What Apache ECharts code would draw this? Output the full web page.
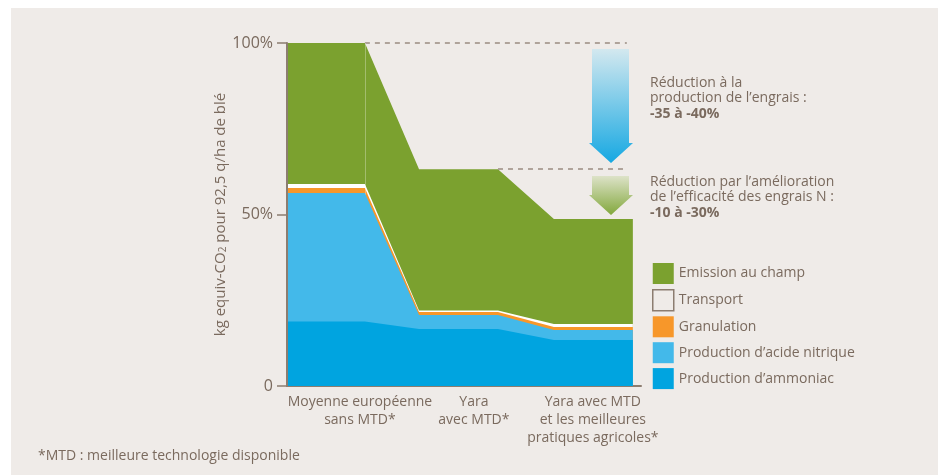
<!DOCTYPE html>
<html>
<head>
<meta charset="utf-8">
<script src="https://cdn.jsdelivr.net/npm/echarts@6/dist/echarts.min.js"></script>
<style>
  html, body { margin: 0; padding: 0; background: #ffffff; }
  #chart { width: 942px; height: 475px; }
</style>
</head>
<body>
<div id="chart"></div>
<script>
// scénarios (3 paliers), valeurs en % du total de référence
var scenarios = ['Moyenne européenne\nsans MTD*', 'Yara\navec MTD*', 'Yara avec MTD\net les meilleures\npratiques agricoles*'];
var labelPos = [20.6, 52.8, 86.4];       // position des libellés sur l'axe x (0-100)
var plateauStart = [0, 37.3, 75.4];
var plateauEnd = [22, 59.6, 97.7];

var ammoniac = [18.8, 16.6, 13.4];
var acideNitrique = [37.5, 4.1, 2.9];
var granulation = [1.4, 0.9, 0.9];
var transport = [1.2, 0.4, 0.9];
var emissionChamp = [41.1, 41.2, 30.6];

var yTicks = [0, 50, 100];
var yTickLabels = ['0', '50%', '100%'];

var txt = '#7a6a5e';
var font = 'Open Sans';

// empilement fait à la main (axe x en valeurs)
var layers = [
    { name: 'Production d\u2019ammoniac', vals: ammoniac, color: '#00a4e0' },
    { name: 'Production d\u2019acide nitrique', vals: acideNitrique, color: '#43b9ea' },
    { name: 'Granulation', vals: granulation, color: '#f7972a' },
    { name: 'Transport', vals: transport, color: '#ffffff' },
    { name: 'Emission au champ', vals: emissionChamp, color: '#7ba12f' }
];
var cum = [0, 0, 0];
layers.forEach(function(l) {
    cum = cum.map(function(c, i) { return c + l.vals[i]; });
    l.top = cum.slice();
});
var totals = cum;

// chaque scénario = un palier (début et fin)
function toSteps(vals) {
    var out = [];
    for (var i = 0; i < vals.length; i++) {
        out.push([plateauStart[i], vals[i]]);
        out.push([plateauEnd[i], vals[i]]);
    }
    return out;
}

var dash = { color: '#9a8c80', type: [5, 5], width: 1.5 };

// du haut vers le bas pour que les couches du dessous recouvrent
var series = layers.slice().reverse().map(function(l, k) {
    var s = {
        name: l.name,
        type: 'line',
        data: toSteps(l.top),
        showSymbol: false,
        symbol: 'none',
        z: 2 + k,
        lineStyle: { width: 0 },
        itemStyle: { color: l.color },
        areaStyle: { color: l.color, opacity: 1, origin: 0 },
        emphasis: { disabled: true },
        animation: false
    };
    if (k === 0) {
        s.markLine = {
            silent: true,
            symbol: 'none',
            label: { show: false },
            animation: false,
            data: [
                [{ coord: [plateauEnd[0], totals[0]], lineStyle: dash }, { coord: [96, totals[0]] }],
                [{ coord: [plateauEnd[1], totals[1]], lineStyle: dash }, { coord: [96, totals[1]] }]
            ]
        };
    }
    return s;
});

// fin trait clair à la fin du premier palier
series.push({
    type: 'line',
    data: [],
    z: 20,
    markLine: {
        silent: true,
        symbol: 'none',
        label: { show: false },
        animation: false,
        lineStyle: { color: 'rgba(255,255,255,0.3)', type: 'solid', width: 1 },
        data: [[{ coord: [plateauEnd[0], ammoniac[0]] }, { coord: [plateauEnd[0], totals[0]] }]]
    }
});

var chart = echarts.init(document.getElementById('chart'));

var option = {
    backgroundColor: '#ffffff',
    animation: false,
    textStyle: { fontFamily: font, color: txt },
    grid: { left: 287, top: 43, width: 354, bottom: 89 },
    xAxis: {
        type: 'value',
        min: 0,
        max: 100,
        splitLine: { show: false },
        axisTick: { show: false },
        axisLine: { show: true, lineStyle: { color: '#8c7d70', width: 2 } },
        axisLabel: {
            customValues: labelPos,
            formatter: function(v) {
                var i = labelPos.indexOf(v);
                return i >= 0 ? scenarios[i] : '';
            },
            color: txt,
            fontSize: 14,
            lineHeight: 18,
            margin: 7,
            align: 'center',
            verticalAlign: 'top',
            fontFamily: font
        }
    },
    yAxis: {
        type: 'value',
        min: 0,
        max: 100,
        interval: 50,
        z: 30,
        name: 'kg equiv-CO{sub|2} pour 92,5 q/ha de blé',
        nameLocation: 'middle',
        nameRotate: 90,
        nameGap: 57,
        nameTextStyle: {
            color: txt,
            fontSize: 15,
            fontFamily: font,
            rich: {
                sub: { fontSize: 10, verticalAlign: 'bottom', padding: [6, 0, 0, 0], color: txt, fontFamily: font }
            }
        },
        splitLine: { show: false },
        axisLine: { show: true, lineStyle: { color: '#8c7d70', width: 2 } },
        axisTick: { show: true, length: 10, lineStyle: { color: '#8c7d70', width: 1.5 } },
        axisLabel: {
            color: txt,
            fontSize: 16,
            margin: 14,
            fontFamily: font,
            formatter: function(v) {
                var i = yTicks.indexOf(v);
                return i >= 0 ? yTickLabels[i] : '';
            }
        }
    },
    legend: {
        orient: 'vertical',
        left: 652,
        top: 263,
        padding: 0,
        itemWidth: 21,
        itemHeight: 21,
        itemGap: 4.9,
        icon: 'rect',
        selectedMode: false,
        textStyle: { color: txt, fontSize: 14, fontFamily: font },
        data: [
            { name: 'Emission au champ' },
            { name: 'Transport', itemStyle: { color: '#efebe8', borderColor: '#8c7d70', borderWidth: 1.5 } },
            { name: 'Granulation' },
            { name: 'Production d\u2019acide nitrique' },
            { name: 'Production d\u2019ammoniac' }
        ]
    },
    series: series,
    graphic: [
        {
            type: 'rect', z: -10, silent: true,
            shape: { x: 11, y: 8, width: 927, height: 467 },
            style: { fill: '#efebe8' }
        },
        {
            // flèche bleue
            type: 'polygon', silent: true, z: 5,
            shape: { points: [[592, 49], [629, 49], [629, 143], [633, 143], [611, 163], [589, 143], [592, 143]] },
            style: {
                fill: { type: 'linear', x: 0, y: 0, x2: 0, y2: 1, colorStops: [
                    { offset: 0, color: '#d3e8ef' },
                    { offset: 1, color: '#16a8e2' }
                ] }
            }
        },
        {
            // flèche verte
            type: 'polygon', silent: true, z: 5,
            shape: { points: [[592, 176], [629, 176], [629, 195], [633, 195], [611, 215], [589, 195], [592, 195]] },
            style: {
                fill: { type: 'linear', x: 0, y: 0, x2: 0, y2: 1, colorStops: [
                    { offset: 0, color: '#dde2c8' },
                    { offset: 1, color: '#82a83c' }
                ] }
            }
        },
        {
            type: 'text', left: 650, top: 75, silent: true,
            style: {
                text: 'R\u00e9duction \u00e0 la\nproduction de l\u2019engrais :\n{b|-35 \u00e0 -40%}',
                fill: txt, font: '14px "Open Sans"', lineHeight: 15.5,
                rich: { b: { fontWeight: 'bold', fontSize: 14, fontFamily: font, fill: txt } }
            }
        },
        {
            type: 'text', left: 650, top: 174, silent: true,
            style: {
                text: 'R\u00e9duction par l\u2019am\u00e9lioration\nde l\u2019efficacit\u00e9 des engrais N :\n{b|-10 \u00e0 -30%}',
                fill: txt, font: '14px "Open Sans"', lineHeight: 15.5,
                rich: { b: { fontWeight: 'bold', fontSize: 14, fontFamily: font, fill: txt } }
            }
        },
        {
            type: 'text', left: 38, top: 449, silent: true,
            style: { text: '*MTD : meilleure technologie disponible', fill: txt, font: '14px "Open Sans"' }
        }
    ]
};

chart.setOption(option);
</script>
</body>
</html>
